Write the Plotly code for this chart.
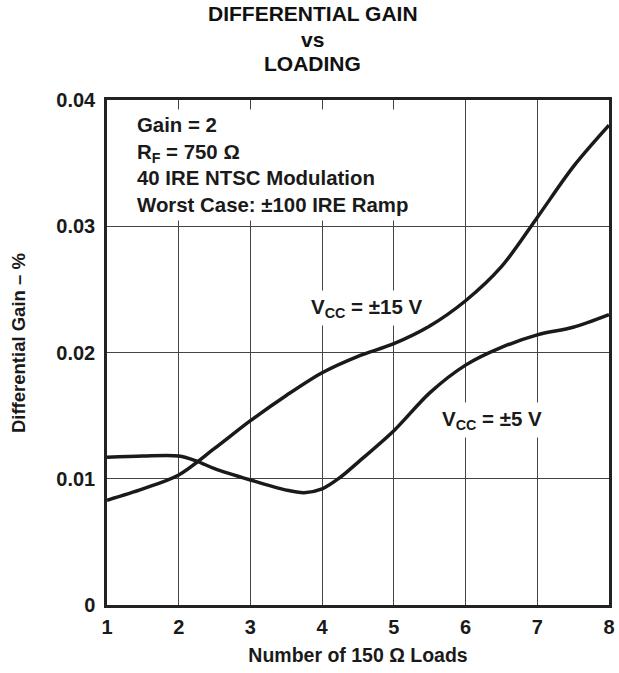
import plotly.graph_objects as go

loads = [1, 1.5, 2, 2.5, 3, 3.5, 4, 4.5, 5, 5.5, 6, 6.5, 7, 7.5, 8]
gain_15v = [0.0083, 0.0092, 0.0103, 0.0124, 0.0146, 0.0166, 0.0184, 0.0197, 0.0207,
            0.0221, 0.0241, 0.0268, 0.0307, 0.0347, 0.0380]

loads_5v = [1, 1.5, 2, 2.25, 2.5, 3, 3.5, 3.75, 4, 4.25, 4.5, 5, 5.5, 6, 6.5, 7, 7.5, 8]
gain_5v = [0.0117, 0.0118, 0.0118, 0.0114, 0.0108, 0.0099, 0.0091, 0.0089, 0.0092,
           0.0101, 0.0113, 0.0138, 0.0168, 0.0190, 0.0204, 0.0214, 0.0220, 0.0230]

x_ticks = [1, 2, 3, 4, 5, 6, 7, 8]
y_ticks = [0, 0.01, 0.02, 0.03, 0.04]
y_tick_text = ["0", "0.01", "0.02", "0.03", "0.04"]

title_lines = ["DIFFERENTIAL GAIN", "vs", "LOADING"]

FONT = "Liberation Sans, Arial, sans-serif"

fig = go.Figure()
fig.add_trace(go.Scatter(x=loads, y=gain_15v, mode="lines",
                         line=dict(color="#1a1a1a", width=3.5, shape="spline", smoothing=0.9),
                         showlegend=False))
fig.add_trace(go.Scatter(x=loads_5v, y=gain_5v, mode="lines",
                         line=dict(color="#1a1a1a", width=3.5, shape="spline", smoothing=0.9),
                         showlegend=False))

fig.update_layout(
    width=619, height=673, autosize=False,
    margin=dict(l=107, r=4, t=100, b=68),
    paper_bgcolor="white", plot_bgcolor="white",
    font=dict(family=FONT, color="#1a1a1a", size=20, weight="bold"),
)
fig.update_xaxes(range=[1, 8], tickvals=x_ticks, showgrid=True, gridcolor="#444", gridwidth=1,
                 showline=True, linecolor="#222", linewidth=2.5, mirror=True, ticks="",
                 zeroline=False, ticklabelstandoff=2, tickfont=dict(size=20),
                 title=dict(text="Number of 150 Ω Loads", standoff=12,
                            font=dict(size=19.5, family=FONT, weight="bold")))
fig.update_yaxes(range=[0, 0.04], tickvals=y_ticks, ticktext=y_tick_text, showgrid=True,
                 gridcolor="#444", gridwidth=1, showline=True, linecolor="#222", linewidth=2.5,
                 mirror=True, ticks="", zeroline=False, ticklabelstandoff=5, tickfont=dict(size=20))

# title lines
for text, yp in zip(title_lines, [1.172, 1.119, 1.073]):
    fig.add_annotation(xref="paper", yref="paper", x=0.41, y=yp, xanchor="center",
                       yanchor="middle", showarrow=False, text=text,
                       font=dict(size=21, family=FONT, weight="bold", color="#111"))

# y axis title
fig.add_annotation(xref="paper", yref="paper", x=-0.175, y=0.519, xanchor="center",
                   yanchor="middle", showarrow=False, textangle=-90,
                   text="Differential Gain – %", font=dict(size=18.5, family=FONT, weight="bold"))

fig.add_annotation(xref="paper", yref="paper", x=0.05, y=0.982, xanchor="left", yanchor="top",
                   align="left", showarrow=False, bgcolor="white", borderpad=4,
                   text="Gain = 2<br>R<sub>F</sub> = 750 Ω<br>40 IRE NTSC Modulation<br>Worst Case: ±100 IRE Ramp",
                   font=dict(size=20.4, family=FONT, weight="bold"))
fig.add_annotation(x=4.63, y=0.0235, xanchor="center", yanchor="middle", showarrow=False,
                   bgcolor="white", borderpad=4, text="V<sub>CC</sub> = ±15 V",
                   font=dict(size=20.5, family=FONT, weight="bold"))
fig.add_annotation(x=6.37, y=0.01465, xanchor="center", yanchor="middle", showarrow=False,
                   bgcolor="white", borderpad=4, text="V<sub>CC</sub> = ±5 V",
                   font=dict(size=20.5, family=FONT, weight="bold"))

fig.write_html("out.html", config={"responsive": False, "displayModeBar": False},
               post_script="document.body.style.margin='0';document.body.style.overflow='hidden';")
